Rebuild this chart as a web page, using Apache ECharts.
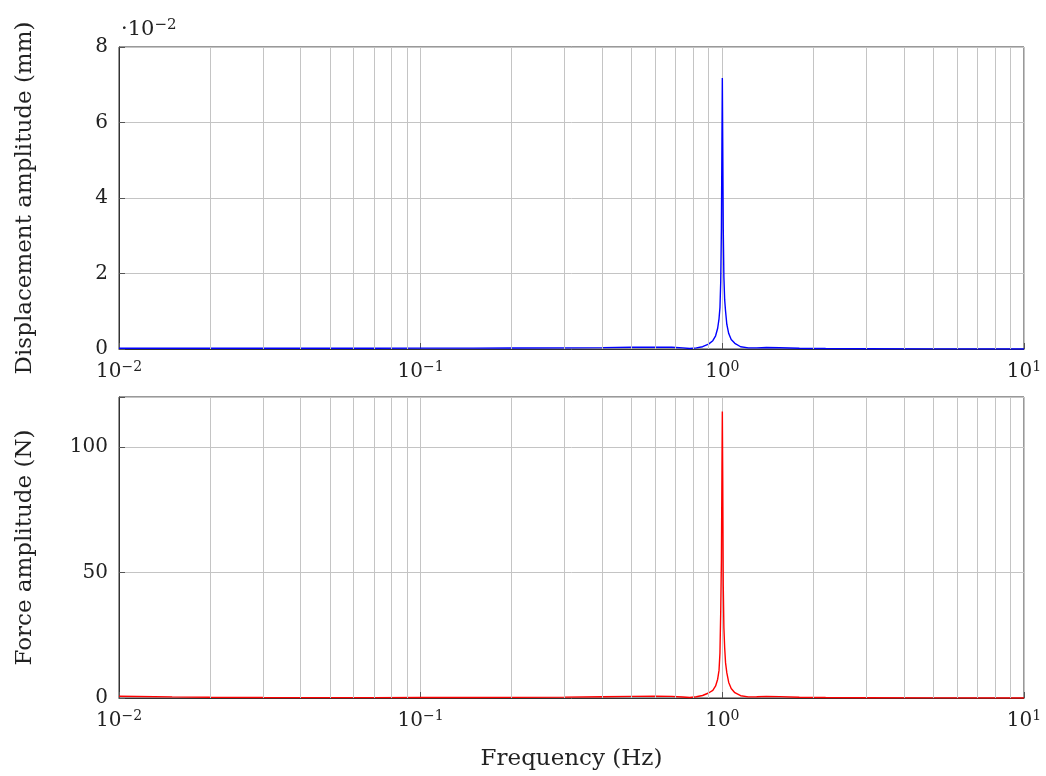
<!DOCTYPE html>
<html>
<head>
<meta charset="utf-8">
<script src="https://cdn.jsdelivr.net/npm/echarts@6/dist/echarts.min.js"></script>
<style>
html,body{margin:0;padding:0;background:#fff;}
#chart{width:1046px;height:776px;}
</style>
</head>
<body>
<div id="chart"></div>
<script>
// ---- data ----
const freqHz = [0.01,0.015,0.02,0.03,0.05,0.07,0.1,0.15,0.2,0.3,0.4,0.5,0.6,0.68,0.74,0.78,0.82,0.86,0.9,0.93,0.95,0.965,0.975,0.982,0.988,0.993,0.997,1.0,1.003,1.007,1.012,1.018,1.025,1.035,1.05,1.07,1.1,1.15,1.22,1.3,1.4,1.55,1.8,2.2,3,5,10];
const displacementMM = [0.0002,0.0002,0.0002,0.0002,0.0002,0.0002,0.00022,0.00024,0.00026,0.0003,0.00036,0.00045,0.0005,0.00045,0.0003,0.00015,0.0003,0.0006,0.0013,0.0022,0.0035,0.0055,0.008,0.011,0.018,0.032,0.055,0.0718,0.055,0.032,0.019,0.013,0.010,0.0065,0.0041,0.0025,0.0015,0.0006,0.0003,0.0003,0.0004,0.00035,0.0002,0.00012,0.00006,0.00003,0.00001];
const forceN = [0.7,0.45,0.3,0.2,0.15,0.15,0.18,0.22,0.25,0.35,0.5,0.65,0.75,0.65,0.4,0.2,0.5,1.0,2.0,3.0,4.8,7.5,11,18,35,55,90,114.2,88,45,28,20,14,10,6.2,3.8,2.1,0.9,0.45,0.5,0.65,0.55,0.3,0.2,0.1,0.05,0.02];
const xMajorTicks = [0.01,0.1,1,10];
const xMinorTicks = [0.02,0.03,0.04,0.05,0.06,0.07,0.08,0.09,0.2,0.3,0.4,0.5,0.6,0.7,0.8,0.9,2,3,4,5,6,7,8,9];
const dispTickLabels = ['0','2','4','6','8'];   // ×10^-2 mm
const forceTickLabels = ['0','50','100'];

const FONT = 'DejaVu Serif';
const TXT = '#222';
const GRIDC = '#c4c4c4';

function pow10Label(v){
  const e = Math.round(Math.log10(v));
  return '{b|10}{s|' + (e < 0 ? '\u2212' + (-e) : String(e)) + '}';
}
const supRich = {
  b:{fontFamily:FONT,fontSize:20,fontWeight:'normal',color:TXT,lineHeight:22,padding:[8,0,0,0],verticalAlign:'bottom'},
  s:{fontFamily:FONT,fontSize:14,fontWeight:'normal',color:TXT,lineHeight:16,verticalAlign:'top'}
};

function xAxisCfg(idx, withName){
  return {
    type:'log', logBase:10, gridIndex:idx, min:0.01, max:10,
    axisLine:{show:true,lineStyle:{color:'#333',width:1}},
    axisTick:{show:true,inside:true,length:6,lineStyle:{color:'#555'}},
    axisLabel:{margin:11,formatter:pow10Label,rich:supRich},
    splitLine:{show:true,lineStyle:{color:GRIDC,width:1}},
    name: withName ? 'Frequency (Hz)' : '',
    nameLocation:'middle', nameGap:50,
    nameTextStyle:{fontFamily:FONT,fontSize:23,color:TXT}
  };
}
function minorLines(xi, yi){
  return {
    type:'line', xAxisIndex:xi, yAxisIndex:yi, data:[], silent:true, z:1,
    markLine:{silent:true,symbol:['none','none'],label:{show:false},animation:false,
      lineStyle:{color:GRIDC,width:1,type:'solid'},
      data: xMinorTicks.map(t=>({xAxis:t}))}
  };
}

const chart = echarts.init(document.getElementById('chart'), null, {renderer:'canvas'});
chart.setOption({
  animation:false,
  backgroundColor:'#fff',
  title:{text:'{d|\u00b710}{s|\u22122}',left:116,top:13,
    textStyle:{fontWeight:'normal',rich:{
      d:{fontFamily:FONT,fontSize:21,fontWeight:'normal',color:TXT,lineHeight:22,padding:[8,0,0,0],verticalAlign:'bottom'},
      s:{fontFamily:FONT,fontSize:15,fontWeight:'normal',color:TXT,lineHeight:16,verticalAlign:'top'}}}},
  grid:[
    {left:119,top:47,width:905,height:302,show:true,borderColor:'#333',borderWidth:1,backgroundColor:'transparent'},
    {left:119,top:397,width:905,height:301,show:true,borderColor:'#333',borderWidth:1,backgroundColor:'transparent'}
  ],
  xAxis:[xAxisCfg(0,false), xAxisCfg(1,true)],
  yAxis:[
    {type:'value',gridIndex:0,min:0,max:0.08,interval:0.02,
     axisLine:{show:true,lineStyle:{color:'#333'}},
     axisTick:{show:true,inside:true,length:6,lineStyle:{color:'#555'}},
     axisLabel:{margin:11,fontFamily:FONT,fontSize:20,color:TXT,
       formatter:v=>dispTickLabels[Math.round(v/0.02)]},
     splitLine:{show:true,lineStyle:{color:GRIDC}},
     name:'Displacement amplitude (mm)',nameLocation:'middle',nameGap:82,
     nameTextStyle:{fontFamily:FONT,fontSize:23,color:TXT}},
    {type:'value',gridIndex:1,min:0,max:120,interval:50,
     axisLine:{show:true,lineStyle:{color:'#333'}},
     axisTick:{show:true,inside:true,length:6,lineStyle:{color:'#555'}},
     axisLabel:{margin:11,fontFamily:FONT,fontSize:20,color:TXT,
       formatter:v=>{const i=forceTickLabels.indexOf(String(v));return i>=0?forceTickLabels[i]:'';}},
     splitLine:{show:true,lineStyle:{color:GRIDC}},
     name:'Force amplitude (N)',nameLocation:'middle',nameGap:82,
     nameTextStyle:{fontFamily:FONT,fontSize:23,color:TXT}}
  ],
  series:[
    minorLines(0,0),
    minorLines(1,1),
    {type:'line',xAxisIndex:0,yAxisIndex:0,z:3,showSymbol:false,
     lineStyle:{color:'#0000ff',width:1.4},itemStyle:{color:'#0000ff'},
     data:freqHz.map((f,i)=>[f,displacementMM[i]])},
    {type:'line',xAxisIndex:1,yAxisIndex:1,z:3,showSymbol:false,
     lineStyle:{color:'#ff0000',width:1.4},itemStyle:{color:'#ff0000'},
     data:freqHz.map((f,i)=>[f,forceN[i]])}
  ]
});
</script>
</body>
</html>
